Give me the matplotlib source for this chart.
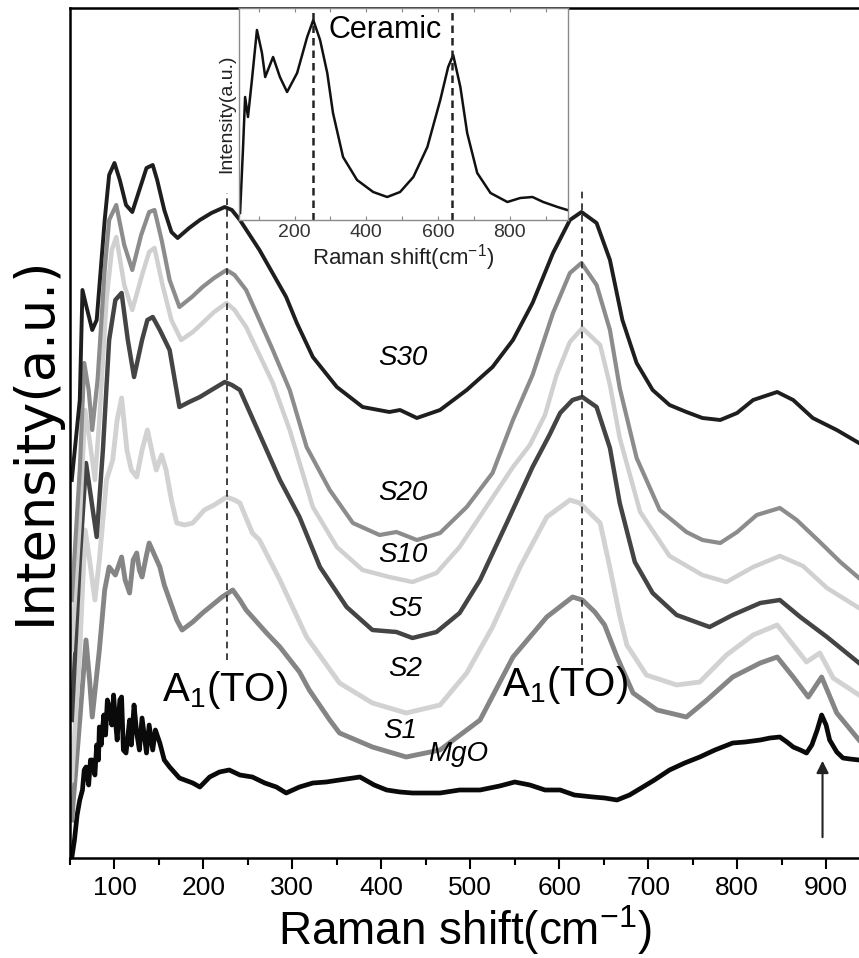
import matplotlib.pyplot as plt
from matplotlib.ticker import MultipleLocator

plt.rcParams['font.family'] = ['Liberation Sans', 'DejaVu Sans']
plt.rcParams['mathtext.default'] = 'regular'

# Raman spectra, shift in cm-1 / intensity in a.u. (offset stacked)
s30_x = [52, 61, 64, 68, 75, 80, 89, 94, 100, 106, 113, 120, 128, 136, 143, 148, 156, 164, 171, 184,
         196, 209, 224, 232, 241, 263, 293, 305, 323, 350, 379, 409, 421, 440, 466, 496, 525, 548, 570, 593,
         612, 625, 642, 657, 671, 687, 705, 724, 743, 761, 781, 800, 818, 845, 863, 885, 912, 937]
s30_y = [378, 458, 568, 553, 528, 538, 638, 683, 695, 678, 653, 646, 668, 690, 693, 678, 648, 626, 620, 630,
         638, 645, 651, 648, 638, 608, 561, 535, 501, 471, 451, 446, 448, 440, 448, 468, 491, 518, 555, 605,
         638, 646, 635, 598, 538, 495, 468, 453, 446, 440, 438, 445, 458, 466, 458, 440, 428, 415]

s20_x = [52, 61, 66, 71, 75, 81, 89, 94, 102, 111, 120, 130, 139, 145, 153, 162, 173, 187, 199, 212,
         226, 235, 248, 278, 297, 316, 342, 368, 398, 417, 440, 466, 496, 525, 548, 570, 593, 612, 625, 642,
         657, 668, 687, 713, 743, 761, 781, 800, 822, 848, 867, 893, 916, 937]
s20_y = [258, 388, 495, 468, 428, 478, 588, 638, 653, 613, 588, 623, 646, 648, 618, 578, 551, 561, 571, 580,
         588, 583, 568, 508, 468, 411, 368, 335, 323, 326, 318, 325, 351, 385, 438, 483, 545, 585, 595, 573,
         528, 470, 400, 348, 326, 318, 315, 326, 343, 350, 338, 316, 296, 280]

s10_x = [52, 61, 67, 72, 78, 83, 91, 97, 102, 111, 120, 131, 139, 145, 154, 164, 175, 188, 199, 212,
         226, 235, 248, 278, 297, 323, 350, 379, 409, 435, 462, 488, 518, 548, 567, 584, 597, 612, 626, 646,
         657, 668, 691, 724, 761, 788, 818, 848, 874, 901, 937]
s10_y = [208, 338, 448, 418, 378, 438, 558, 608, 621, 573, 548, 583, 606, 610, 573, 538, 518, 526, 535, 546,
         555, 548, 531, 475, 428, 351, 311, 288, 281, 276, 285, 311, 351, 391, 413, 443, 483, 516, 530, 513,
         473, 420, 346, 302, 283, 276, 291, 302, 292, 270, 250]

s5_x = [52, 61, 68, 74, 80, 87, 94, 101, 108, 115, 122, 131, 137, 143, 151, 162, 173, 184, 196, 209,
        224, 232, 241, 271, 286, 308, 331, 361, 390, 417, 435, 462, 488, 511, 541, 570, 589, 601, 615, 626,
        642, 657, 668, 685, 705, 732, 769, 795, 826, 848, 871, 901, 937]
s5_y = [138, 298, 395, 358, 321, 408, 518, 558, 565, 518, 481, 518, 538, 541, 528, 508, 451, 456, 461, 468,
        476, 473, 468, 408, 378, 341, 291, 251, 228, 226, 220, 226, 245, 278, 335, 391, 423, 445, 458, 461,
        451, 410, 355, 296, 265, 243, 231, 243, 255, 258, 241, 221, 195]

s2_x = [52, 61, 67, 72, 78, 83, 91, 98, 103, 108, 114, 119, 125, 131, 137, 143, 147, 153, 158, 164,
        170, 179, 188, 201, 212, 226, 235, 241, 255, 263, 286, 316, 353, 390, 428, 466, 496, 525, 556, 586,
        612, 623, 646, 657, 668, 676, 698, 732, 758, 788, 818, 845, 863, 878, 893, 908, 937]
s2_y = [78, 208, 328, 298, 258, 298, 378, 398, 438, 460, 408, 388, 381, 408, 428, 403, 388, 403, 388, 358,
        335, 333, 335, 348, 353, 361, 358, 355, 325, 318, 278, 221, 175, 155, 145, 153, 185, 231, 291, 341,
        358, 355, 335, 290, 242, 213, 183, 173, 176, 203, 223, 233, 213, 196, 205, 180, 163]

s1_x = [52, 61, 68, 72, 75, 83, 89, 94, 101, 108, 112, 117, 121, 125, 128, 131, 136, 139, 145, 151,
        156, 162, 170, 176, 188, 199, 210, 221, 233, 241, 248, 271, 286, 308, 319, 342, 353, 390, 428, 466,
        511, 548, 586, 615, 626, 640, 651, 665, 683, 710, 743, 766, 795, 826, 845, 863, 880, 895, 912, 937]
s1_y = [38, 138, 218, 178, 141, 208, 268, 291, 283, 301, 278, 265, 298, 305, 288, 281, 303, 315, 303, 291,
        273, 258, 238, 228, 236, 245, 253, 261, 268, 258, 248, 225, 211, 186, 168, 138, 125, 111, 101, 108,
        138, 201, 241, 261, 258, 246, 233, 201, 165, 148, 141, 158, 181, 195, 201, 181, 161, 181, 145, 118]

mgo_x = [52, 55, 58, 61, 64, 66, 68, 71, 73, 75, 78, 80, 82, 83, 85, 88, 90, 92, 94, 97,
         99, 101, 103, 106, 108, 110, 113, 117, 119, 122, 125, 128, 131, 136, 139, 143, 146, 151, 156, 162,
         173, 188, 196, 207, 218, 229, 241, 255, 269, 282, 293, 308, 323, 338, 353, 376, 392, 406, 421, 435,
         466, 488, 511, 533, 550, 567, 584, 601, 617, 638, 651, 665, 679, 694, 707, 724, 741, 758, 775, 795,
         809, 826, 837, 848, 856, 863, 871, 878, 884, 890, 895, 900, 904, 912, 919, 927, 937]
mgo_y = [0, 18, 43, 58, 68, 88, 91, 73, 98, 98, 83, 113, 98, 131, 113, 143, 123, 158, 151, 133,
         163, 138, 118, 158, 161, 108, 105, 138, 113, 153, 125, 108, 140, 105, 133, 108, 128, 115, 98, 91,
         80, 75, 71, 81, 86, 88, 83, 81, 75, 71, 65, 71, 75, 76, 78, 81, 73, 68, 66, 65,
         65, 68, 68, 72, 76, 73, 68, 68, 63, 61, 60, 58, 63, 71, 78, 88, 95, 101, 108, 115,
         116, 118, 120, 121, 116, 111, 108, 105, 113, 128, 143, 133, 118, 106, 100, 99, 98]

# inset: ceramic reference spectrum
cer_x = [48, 56, 62, 70, 81, 95, 109, 118, 140, 159, 179, 207, 235, 252, 271, 291, 307, 335, 374, 419,
         458, 494, 531, 570, 606, 628, 642, 662, 681, 709, 746, 793, 829, 863, 893, 933, 960]
cer_y = [7, 70, 123, 103, 140, 190, 167, 143, 163, 143, 128, 147, 183, 200, 180, 147, 107, 63, 40, 28,
         23, 28, 43, 73, 120, 153, 165, 133, 87, 47, 27, 18, 22, 23, 18, 13, 10]

series = [
    ('MgO', mgo_x, mgo_y, '#0a0a0a', 3.4),
    ('S1', s1_x, s1_y, '#858585', 3.5),
    ('S2', s2_x, s2_y, '#d2d2d2', 3.5),
    ('S5', s5_x, s5_y, '#444444', 3.2),
    ('S10', s10_x, s10_y, '#d0d0d0', 3.2),
    ('S20', s20_x, s20_y, '#8c8c8c', 3.0),
    ('S30', s30_x, s30_y, '#1e1e1e', 2.8),
]
labels = {'S30': (424, 500), 'S20': (424, 365), 'S10': (424, 303), 'S5': (427, 249),
          'S2': (427, 189), 'S1': (421, 127), 'MgO': (486, 104)}
peaks = [226, 626]

fig = plt.figure(figsize=(8.59, 9.58), dpi=100)
ax = fig.add_axes([70 / 859, 100 / 958, 789 / 859, 850 / 958])

for name, x, y, col, lw in series:
    ax.plot(x, y, color=col, lw=lw, solid_joinstyle='round')
    lx, ly = labels[name]
    ax.text(lx, ly, name, fontsize=20, style='italic', ha='center', va='center')

ax.plot([peaks[0], peaks[0]], [198, 665], color='#222222', lw=1.2, ls=(0, (4, 3)))
ax.plot([peaks[1], peaks[1]], [193, 667], color='#222222', lw=1.2, ls=(0, (4, 3)))
ax.text(224, 168, 'A$_1$(TO)', fontsize=29, ha='center', va='center')
ax.text(607, 173, 'A$_1$(TO)', fontsize=29, ha='center', va='center')

ax.annotate('', xy=(896, 100), xytext=(896, 18),
            arrowprops=dict(arrowstyle='-|>', color='#222222', lw=1.5, mutation_scale=18))

ax.set_xlim(50, 937)
ax.set_ylim(0, 850)
ax.set_yticks([])
ax.xaxis.set_major_locator(MultipleLocator(100))
ax.xaxis.set_minor_locator(MultipleLocator(50))
ax.tick_params(axis='x', which='major', direction='out', length=8, width=1.5, labelsize=19, pad=5)
ax.tick_params(axis='x', which='minor', direction='out', length=5, width=1.5)
ax.spines['right'].set_visible(False)
for s in ['left', 'top', 'bottom']:
    ax.spines[s].set_linewidth(1.8)
ax.set_xlabel('Raman shift(cm$^{-1}$)', fontsize=33, labelpad=2)
fig.text(35 / 859, 1 - 440 / 958, 'Intensity(a.u.)', fontsize=38, rotation=90,
         ha='center', va='center', family=['DejaVu Sans'])

# inset
axin = fig.add_axes([239 / 859, 1 - 220 / 958, 329 / 859, 212 / 958])
axin.plot(cer_x, cer_y, color='#111111', lw=1.8)
for p in [250, 640]:
    axin.axvline(p, color='#222222', lw=1.8, ls=(0, (3, 2)))
axin.text(452, 190, 'Ceramic', fontsize=22, ha='center', va='center')
axin.set_xlim(45, 962)
axin.set_ylim(0, 212)
axin.set_yticks([])
axin.xaxis.set_major_locator(MultipleLocator(200))
axin.xaxis.set_minor_locator(MultipleLocator(100))
axin.tick_params(axis='x', which='both', direction='in', top=True, length=3, width=0.8,
                 color='#888888', labelsize=14, labelcolor='#333333', pad=3)
for s in axin.spines.values():
    s.set_color('#8a8a8a')
    s.set_linewidth(1.0)
axin.set_xlabel('Raman shift(cm$^{-1}$)', fontsize=16, labelpad=1, color='#222222')
axin.set_ylabel('Intensity(a.u.)', fontsize=14, labelpad=3, color='#222222')

fig.savefig('out.png', dpi=100)
plt.close(fig)
